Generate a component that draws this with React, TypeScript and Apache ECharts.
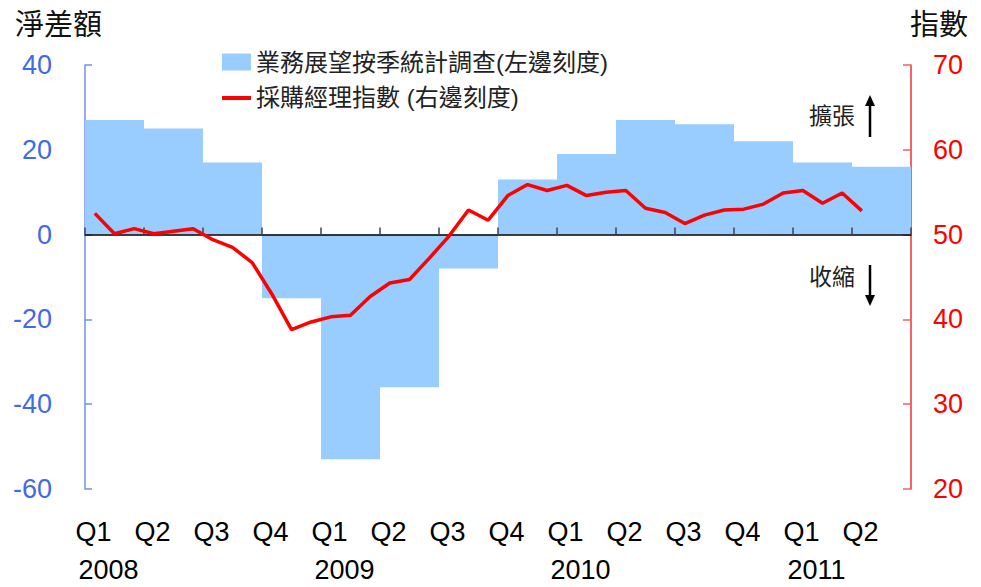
import React, { useEffect, useRef } from "react";
import * as echarts from "echarts";

const quarterKeys = ["2008Q1","2008Q2","2008Q3","2008Q4","2009Q1","2009Q2","2009Q3","2009Q4","2010Q1","2010Q2","2010Q3","2010Q4","2011Q1","2011Q2"];
const quarterLabels = ["Q1","Q2","Q3","Q4","Q1","Q2","Q3","Q4","Q1","Q2","Q3","Q4","Q1","Q2"];
const yearLabels = ["2008","","","","2009","","","","2010","","","","2011",""];
const businessNet = [27, 25, 17, -15, -53, -36, -8, 13, 19, 27, 26, 22, 17, 16];

const months = [
  "2008-01","2008-02","2008-03","2008-04","2008-05","2008-06","2008-07","2008-08","2008-09","2008-10","2008-11","2008-12",
  "2009-01","2009-02","2009-03","2009-04","2009-05","2009-06","2009-07","2009-08","2009-09","2009-10","2009-11","2009-12",
  "2010-01","2010-02","2010-03","2010-04","2010-05","2010-06","2010-07","2010-08","2010-09","2010-10","2010-11","2010-12",
  "2011-01","2011-02","2011-03","2011-04","2011-05","2011-06"
];
const pmi = [
  52.5, 50.1, 50.7, 50.1, 50.4, 50.7, 49.4, 48.5, 46.7, 43.0, 38.8, 39.7,
  40.3, 40.5, 42.7, 44.3, 44.7, 47.2, 49.8, 52.9, 51.7, 54.6, 55.9, 55.2,
  55.8, 54.6, 55.0, 55.2, 53.1, 52.6, 51.3, 52.3, 52.9, 53.0, 53.6, 54.9,
  55.2, 53.7, 54.9, 52.8
];

const leftTicks = { min: -60, max: 40, interval: 20 };
const rightTicks = { min: 20, max: 70, interval: 10 };

const seriesNames = ["業務展望按季統計調查(左邊刻度)", "採購經理指數 (右邊刻度)"];
const axisTitles = ["淨差額", "指數"];
const notes = ["擴張", "收縮"];

const FONT = "'Liberation Sans', Arial, 'Noto Sans CJK TC', sans-serif";
const BLUE = "#3F6AE8";
const RED = "#FF0000";

export default function App() {
  const ref = useRef<HTMLDivElement>(null);
  useEffect(() => {
    document.body.style.margin = "0";
    if (!ref.current) return;
    const chart = echarts.init(ref.current, null, { renderer: "svg" });
    chart.setOption({
      animation: false,
      backgroundColor: "#ffffff",
      textStyle: { fontFamily: FONT },
      title: [
        { text: axisTitles[0], left: 10, top: 5, textStyle: { fontSize: 29, fontWeight: "normal", color: "#111", fontFamily: FONT } },
        { text: axisTitles[1], right: 8, top: 5, textStyle: { fontSize: 29, fontWeight: "normal", color: "#111", fontFamily: FONT } },
      ],
      legend: {
        orient: "vertical",
        left: 217,
        top: 45,
        itemWidth: 29,
        itemHeight: 17,
        itemGap: 12,
        textStyle: { fontSize: 24, color: "#222", fontFamily: FONT },
        data: [
          { name: seriesNames[0], icon: "rect" },
          { name: seriesNames[1], icon: "path://M0,0H29V4H0Z" },
        ],
      },
      grid: { left: 85, right: 70, top: 65, bottom: 98, containLabel: false },
      xAxis: [
        {
          type: "category",
          data: quarterKeys,
          position: "bottom",
          axisLine: { onZero: true, lineStyle: { color: "#000", width: 1.5 } },
          axisTick: { show: true, inside: true, length: 7, lineStyle: { color: "#404050", width: 1.5 } },
          axisLabel: { show: false },
          splitLine: { show: false },
          z: 5,
        },
        {
          type: "category",
          data: months,
          show: false,
          boundaryGap: true,
        },
        {
          type: "category",
          data: quarterKeys,
          position: "bottom",
          axisLine: { show: false, onZero: false },
          axisTick: { show: false },
          splitLine: { show: false },
          axisLabel: {
            interval: 0,
            margin: 24,
            formatter: (_v: string, i: number) =>
              yearLabels[i] ? `{q|${quarterLabels[i]}}\n{y|${yearLabels[i]}}` : `{q|${quarterLabels[i]}}`,
            rich: {
              q: { fontSize: 27, color: "#000", fontFamily: FONT, lineHeight: 38, padding: [0, 42, 0, 0] },
              y: { fontSize: 27, color: "#000", fontFamily: FONT, lineHeight: 38, padding: [0, 12, 0, 0] },
            },
          },
        },
      ],
      yAxis: [
        {
          type: "value",
          position: "left",
          min: leftTicks.min,
          max: leftTicks.max,
          interval: leftTicks.interval,
          axisLine: { show: true, lineStyle: { color: "#7090F0", width: 1.5 } },
          axisTick: { show: true, inside: true, length: 7, lineStyle: { color: "#7090F0", width: 1.5 } },
          axisLabel: { color: BLUE, fontSize: 27, margin: 33, fontFamily: FONT },
          splitLine: { show: false },
        },
        {
          type: "value",
          position: "right",
          min: rightTicks.min,
          max: rightTicks.max,
          interval: rightTicks.interval,
          axisLine: { show: true, lineStyle: { color: "#F03030", width: 1.5 } },
          axisTick: { show: true, inside: true, length: 8, lineStyle: { color: "#F06060", width: 1.5 } },
          axisLabel: { color: RED, fontSize: 27, margin: 22, fontFamily: FONT },
          splitLine: { show: false },
        },
      ],
      series: [
        {
          name: seriesNames[0],
          type: "bar",
          xAxisIndex: 0,
          yAxisIndex: 0,
          data: businessNet,
          barWidth: "100%",
          barCategoryGap: "0%",
          itemStyle: { color: "#99CCFF" },
          z: 1,
        },
        {
          name: seriesNames[1],
          type: "line",
          xAxisIndex: 1,
          yAxisIndex: 1,
          data: pmi,
          symbol: "none",
          lineStyle: { color: RED, width: 3.5 },
          itemStyle: { color: RED },
          z: 10,
        },
      ],
      graphic: [
        { type: "text", left: 809, top: 104, style: { text: notes[0], fontSize: 23, fill: "#222", fontFamily: FONT } },
        { type: "text", left: 809, top: 265, style: { text: notes[1], fontSize: 23, fill: "#222", fontFamily: FONT } },
        { type: "line", shape: { x1: 870, y1: 137, x2: 870, y2: 104 }, style: { stroke: "#000", lineWidth: 2.5 } },
        { type: "polygon", shape: { points: [[870, 95], [865, 106], [875, 106]] }, style: { fill: "#000" } },
        { type: "line", shape: { x1: 870, y1: 265, x2: 870, y2: 297 }, style: { stroke: "#000", lineWidth: 2.5 } },
        { type: "polygon", shape: { points: [[870, 306], [865, 295], [875, 295]] }, style: { fill: "#000" } },
      ],
    });
    return () => chart.dispose();
  }, []);
  return <div ref={ref} style={{ width: 981, height: 587 }} />;
}
